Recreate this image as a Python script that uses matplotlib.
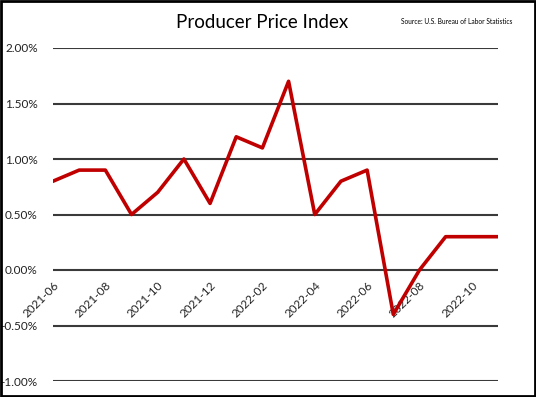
import matplotlib.pyplot as plt
from matplotlib.ticker import FuncFormatter
import matplotlib.patches as patches

# --- Data (monthly PPI change, %) ---
months = ['2021-06', '2021-07', '2021-08', '2021-09', '2021-10', '2021-11',
          '2021-12', '2022-01', '2022-02', '2022-03', '2022-04', '2022-05',
          '2022-06', '2022-07', '2022-08', '2022-09', '2022-10', '2022-11']
ppi = [0.8, 0.9, 0.9, 0.5, 0.7, 1.0, 0.6, 1.2, 1.1, 1.7, 0.5, 0.8,
       0.9, -0.4, 0.0, 0.3, 0.3, 0.3]
y_ticks = [-1.0, -0.5, 0.0, 0.5, 1.0, 1.5, 2.0]

plt.rcParams['font.family'] = ['Lato', 'DejaVu Sans']

fig = plt.figure(figsize=(5.36, 3.97), dpi=100)
ax = fig.add_axes([53 / 536, 1 - 381 / 397, 445 / 536, 333 / 397])

# put the x labels on the zero line (must come before tick label styling)
for s in ['top', 'right', 'left']:
    ax.spines[s].set_visible(False)
ax.spines['bottom'].set_position(('data', 0))
ax.spines['bottom'].set_visible(False)

x = list(range(len(months)))
ax.plot(x, ppi, color='#C00000', linewidth=2.6, zorder=3)

ax.set_xlim(0, len(months) - 1)
ax.set_ylim(-1.0, 2.0)
ax.set_yticks(y_ticks)
ax.yaxis.set_major_formatter(FuncFormatter(lambda v, p: f'{v:.2f}%'))
ax.grid(axis='y', color='#3a3a3a', linewidth=1.5)
ax.set_axisbelow(True)

ax.set_xticks(x[::2])
ax.set_xticklabels(months[::2], rotation=45, ha='right', rotation_mode='anchor')

ax.tick_params(axis='both', length=0, labelsize=8.5, colors='#222222')
ax.tick_params(axis='x', pad=7)
ax.tick_params(axis='y', pad=11)

fig.text(262 / 536, 1 - 22 / 397, 'Producer Price Index', ha='center',
         va='center', fontsize=13.5)
fig.text(512 / 536, 1 - 22 / 397, 'Source: U.S. Bureau of Labor Statistics',
         ha='right', va='center', fontsize=4.8)

fig.patches.append(patches.Rectangle((0.002, 0.003), 0.996, 0.994,
                                     transform=fig.transFigure, fill=False,
                                     edgecolor='black', linewidth=2))

fig.savefig('out.png', dpi=100)
